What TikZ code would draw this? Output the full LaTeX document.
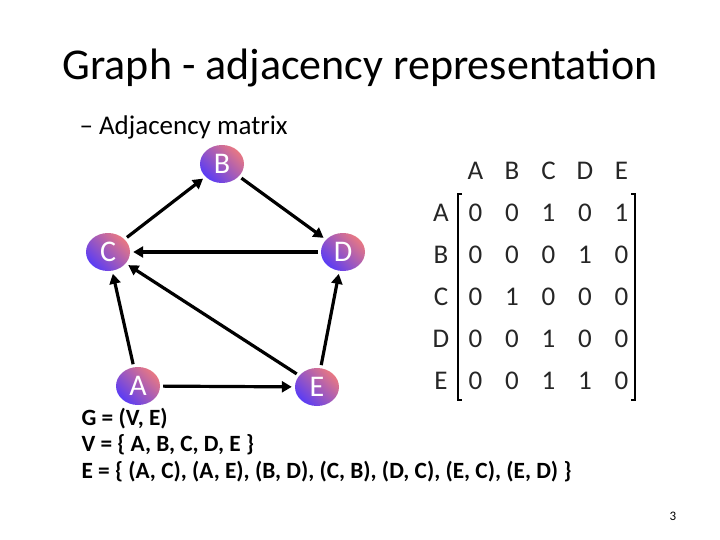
\documentclass[tikz,border=0pt]{standalone}
\usepackage{fontspec}
\setmainfont{Carlito}
\usetikzlibrary{shapes.geometric,arrows.meta}
\definecolor{pk}{RGB}{232,120,130}
\definecolor{bl}{RGB}{90,60,245}
\begin{document}
\begin{tikzpicture}[x=1pt,y=-1pt,
  vert/.style={ellipse,minimum width=44pt,minimum height=38pt,inner sep=0pt,
    top color=pk,bottom color=bl,shading angle=-45,text=white,font=\fontsize{30}{30}\selectfont},
  edge/.style={line width=3.2pt,-{Triangle[length=10pt,width=11pt]},shorten >=3pt,shorten <=3pt},
  ent/.style={font=\fontsize{27}{27}\selectfont,text=black!85}]
\useasboundingbox (0,0) rectangle (720,540);
\node (title) at (360,68) {\fontsize{44}{44}\selectfont Graph - adjacency representation};
\node[anchor=west] (sub) at (76,127) {\fontsize{27}{27}\selectfont -- Adjacency matrix};
\node[vert] (B) at (222,164) {\raisebox{-8pt}{B}};
\node[vert] (C) at (108,252) {\raisebox{-8pt}{C}};
\node[vert] (D) at (343,252) {\raisebox{-8pt}{D}};
\node[vert] (A) at (138,386) {\raisebox{-8pt}{A}};
\node[vert] (E) at (317,387) {\raisebox{-8pt}{E}};
\draw[edge] (A) -- (C);
\draw[edge] (A) -- (E);
\draw[edge] (B) -- (D);
\draw[edge] (C) -- (B);
\draw[edge] (D) -- (C);
\draw[edge] (E) -- (C);
\draw[edge] (E) -- (D);
\foreach \l [count=\i] in {A,B,C,D,E}{
  \node[ent] (h\i) at ({439+36.5*\i},171) {\l};
  \node[ent] (r\i) at (441,{171+42*\i}) {\l};
}
\foreach \row [count=\r] in {{0,0,1,0,1},{0,0,0,1,0},{0,1,0,0,0},{0,0,1,0,0},{0,0,1,1,0}}{
  \foreach \v [count=\c] in \row {
    \node[ent] (m\r\c) at ({439+36.5*\c},{171+42*\r}) {\v};
  }
}
\draw[line width=1.3pt] (462,194) -- (458,194) -- (458,400) -- (462,400);
\draw[line width=1.3pt] (631,194) -- (635,194) -- (635,400) -- (631,400);
\node[anchor=west,font=\fontsize{23.3}{23.3}\selectfont\bfseries] (g1) at (78,419) {G = (V, E)};
\node[anchor=west,font=\fontsize{23.3}{23.3}\selectfont\bfseries] (g2) at (78,445) {V = \{ A, B, C, D, E \}};
\node[anchor=west,font=\fontsize{23.3}{23.3}\selectfont\bfseries] (g3) at (78,472) {E = \{ (A, C), (A, E), (B, D), (C, B), (D, C), (E, C), (E, D) \}};
\node[font=\fontsize{13}{13}\selectfont] (pg) at (673,516) {3};
\end{tikzpicture}
\end{document}
